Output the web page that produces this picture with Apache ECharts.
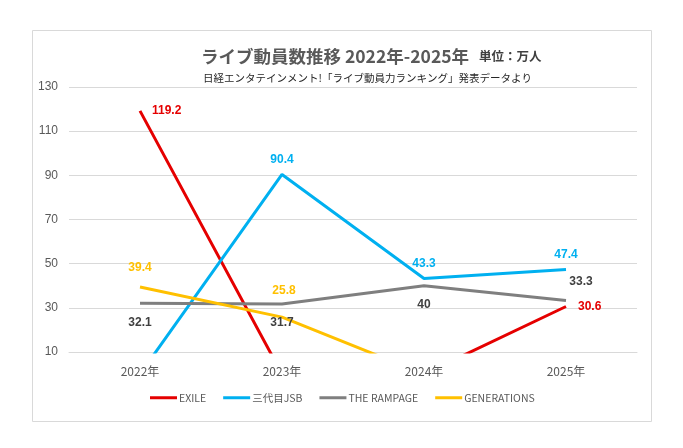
<!DOCTYPE html>
<html>
<head>
<meta charset="utf-8">
<script src="https://cdn.jsdelivr.net/npm/echarts@6/dist/echarts.min.js"></script>
<style>
  html, body { margin: 0; padding: 0; background: #fff; }
  #chart { width: 683px; height: 448px; }
</style>
</head>
<body>
<div id="chart"></div>
<script>
// 年度
var years = ['2022年', '2023年', '2024年', '2025年'];
// 各グループのライブ動員数（万人）
var exile = [119.2, 0, 0, 30.6];
var jsb = [0, 90.4, 43.3, 47.4];
var rampage = [32.1, 31.7, 40, 33.3];
var generations = [39.4, 25.8, 0, 0];
// y軸
var yMin = 10, yMax = 130, yStep = 20;

// ラベル位置と微調整
var exilePos = ['right', 'right', 'right', 'right'];
var jsbPos = ['top', 'top', 'top', 'top'];
var rampagePos = ['bottom', 'bottom', 'bottom', 'top'];
var genPos = ['top', 'top', 'top', 'top'];
var noShift = [[0, 0], [0, 0], [0, 0], [0, 0]];
var rampageShift = [[0, 0], [0, 0], [0, 0], [15, 0]];
var genShift = [[0, 0], [2, -7], [0, 0], [0, 0]];

window.onload = function () {
  var chart = echarts.init(document.getElementById('chart'));

  function makeData(values, pos, shift, color) {
    return values.map(function (v, i) {
      return {
        value: v,
        label: {
          show: v >= yMin,
          position: pos[i],
          offset: shift[i],
          color: color
        }
      };
    });
  }

  function makeSeries(name, values, pos, shift, color, labelColor, dist) {
    return {
      name: name,
      type: 'line',
      symbol: 'circle',
      symbolSize: 0,
      showSymbol: true,
      clip: true,
      data: makeData(values, pos, shift, labelColor),
      lineStyle: { color: color, width: 3 },
      itemStyle: { color: color },
      label: {
        show: true,
        fontFamily: 'Liberation Sans, Arial, sans-serif',
        fontSize: 12,
        fontWeight: 'bold',
        distance: dist
      }
    };
  }

  var option = {
    animation: false,
    backgroundColor: '#fff',
    graphic: [{
      type: 'rect',
      shape: { x: 32.5, y: 30.5, width: 619, height: 391 },
      style: { fill: 'none', stroke: '#d9d9d9', lineWidth: 1 },
      silent: true
    }],
    title: [{
      text: '{a|ライブ動員数推移 2022年-2025年}{b|単位：万人}',
      left: 196,
      top: 43,
      textStyle: {
        rich: {
          a: { fontFamily: 'Noto Sans CJK JP', fontSize: 17.5, fontWeight: 'bold', color: '#595959' },
          b: { fontFamily: 'Noto Sans CJK JP', fontSize: 12.5, fontWeight: 'bold', color: '#404040', padding: [0, 0, 0, 10] }
        }
      }
    }, {
      text: '日経エンタテインメント!「ライブ動員力ランキング」発表データより',
      left: 198,
      top: 68,
      textStyle: { fontFamily: 'Noto Sans CJK JP', fontSize: 10.5, fontWeight: 'normal', color: '#262626' }
    }],
    legend: {
      bottom: 40,
      left: 145,
      itemWidth: 27,
      itemHeight: 3,
      itemGap: 17,
      icon: 'rect',
      textStyle: { fontFamily: 'Noto Sans CJK JP', fontSize: 10.5, color: '#595959', padding: [0, 0, 0, -3] },
      data: ['EXILE', '三代目JSB', 'THE RAMPAGE', 'GENERATIONS']
    },
    grid: { left: 69, right: 46, top: 87, bottom: 96 },
    xAxis: {
      type: 'category',
      data: years,
      axisLine: { lineStyle: { color: '#d9d9d9' } },
      axisTick: { show: false },
      axisLabel: { color: '#595959', fontSize: 12, margin: 13, fontFamily: 'Noto Sans CJK JP' }
    },
    yAxis: {
      type: 'value',
      min: yMin,
      max: yMax,
      interval: yStep,
      axisLine: { show: false },
      axisTick: { show: false },
      splitLine: { lineStyle: { color: '#d9d9d9' } },
      axisLabel: { color: '#595959', fontSize: 12, margin: 11, fontFamily: 'Liberation Sans, Arial, sans-serif' }
    },
    series: [
      makeSeries('EXILE', exile, exilePos, noShift, '#e50000', '#e50000', 12),
      makeSeries('三代目JSB', jsb, jsbPos, noShift, '#00b0f0', '#00b0f0', 9),
      makeSeries('THE RAMPAGE', rampage, rampagePos, rampageShift, '#7f7f7f', '#404040', 13),
      makeSeries('GENERATIONS', generations, genPos, genShift, '#ffc000', '#ffc000', 13)
    ]
  };

  chart.setOption(option);
};
</script>
</body>
</html>
